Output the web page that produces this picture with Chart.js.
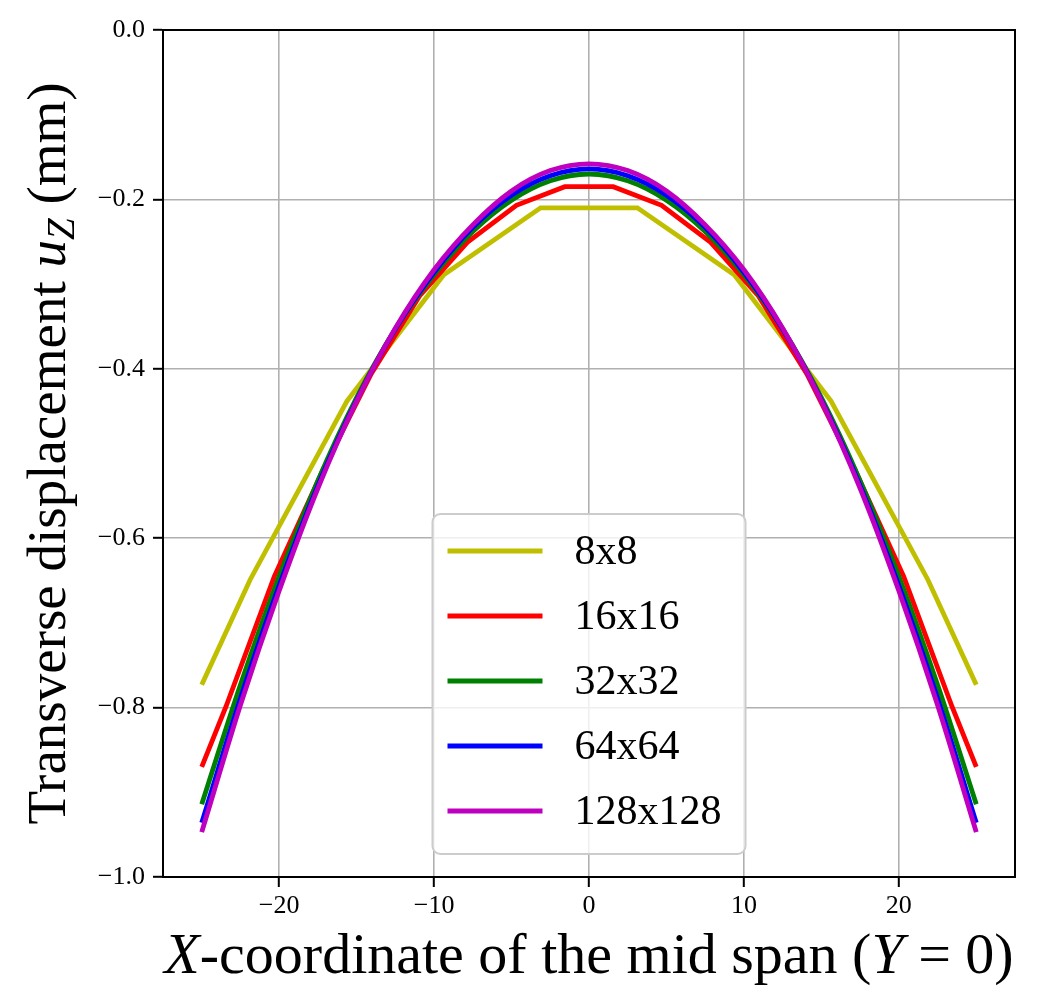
<!DOCTYPE html>
<html>
<head>
<meta charset="utf-8">
<script src="https://cdn.jsdelivr.net/npm/chart.js@4.4.0/dist/chart.umd.min.js"></script>
<style>
  body { margin: 0; background: #fff; }
  canvas { display: block; }
</style>
</head>
<body>
<canvas id="myChart" width="1037" height="1007"></canvas>
<script>
// tick labels
var xTicks = [-20, -10, 0, 10, 20];
var yTicks = [0, -0.2, -0.4, -0.6, -0.8, -1.0];

// mesh names for the legend
var meshLabels = ['8x8', '16x16', '32x32', '64x64', '128x128'];
var meshColors = ['#bfbf00', '#ff0000', '#008000', '#0000ff', '#bf00bf'];

// 8x8 mesh
var x8 = [-25, -21.875, -15.625, -9.375, -3.125, 3.125, 9.375, 15.625, 21.875, 25];
var u8 = [-0.773, -0.649, -0.438, -0.289, -0.210, -0.210, -0.289, -0.438, -0.649, -0.773];

// 16x16 mesh
var x16 = [-25, -23.4375, -20.3125, -17.1875, -14.0625, -10.9375, -7.8125, -4.6875, -1.5625,
           1.5625, 4.6875, 7.8125, 10.9375, 14.0625, 17.1875, 20.3125, 23.4375, 25];
var u16 = [-0.870, -0.799, -0.645, -0.520, -0.406, -0.314, -0.250, -0.207, -0.185,
           -0.185, -0.207, -0.250, -0.314, -0.406, -0.520, -0.645, -0.799, -0.870];

// finer meshes, read every 2.5 mm
var xFine = [-25, -22.5, -20, -17.5, -15, -12.5, -10, -7.5, -5, -2.5, 0,
             2.5, 5, 7.5, 10, 12.5, 15, 17.5, 20, 22.5, 25];
var u32 = [-0.914, -0.773, -0.645, -0.532, -0.434, -0.353, -0.289, -0.238, -0.201, -0.178, -0.170,
           -0.178, -0.201, -0.238, -0.289, -0.353, -0.434, -0.532, -0.645, -0.773, -0.914];
var u64 = [-0.936, -0.789, -0.656, -0.538, -0.437, -0.353, -0.286, -0.233, -0.195, -0.172, -0.164,
           -0.172, -0.195, -0.233, -0.286, -0.353, -0.437, -0.538, -0.656, -0.789, -0.936];
var u128 = [-0.947, -0.797, -0.662, -0.541, -0.438, -0.352, -0.283, -0.230, -0.190, -0.166, -0.158,
            -0.166, -0.190, -0.230, -0.283, -0.352, -0.438, -0.541, -0.662, -0.797, -0.947];

var SERIF = '"Liberation Serif", "Times New Roman", serif';

function pts(xs, ys) {
  return xs.map(function (x, i) { return { x: x, y: ys[i] }; });
}

function makeSet(i, xs, ys, smooth) {
  return {
    label: meshLabels[i],
    data: pts(xs, ys),
    borderColor: meshColors[i],
    borderWidth: 4.8,
    pointRadius: 0,
    fill: false,
    tension: smooth ? 0.4 : 0,
    cubicInterpolationMode: smooth ? 'monotone' : 'default',
    order: 5 - i   // last mesh drawn on top
  };
}

// draw a string made of pieces with different fonts, centred on (0,0)
function drawPieces(ctx, pieces) {
  var total = 0;
  pieces.forEach(function (p) { ctx.font = p.font; total += ctx.measureText(p.t).width; });
  var x = -total / 2;
  pieces.forEach(function (p) {
    ctx.font = p.font;
    ctx.fillText(p.t, x, p.dy || 0);
    x += ctx.measureText(p.t).width;
  });
}

var axisTitles = {
  id: 'axisTitles',
  afterDraw: function (chart) {
    var ctx = chart.ctx, a = chart.chartArea;
    ctx.save();
    ctx.fillStyle = '#000';
    ctx.textBaseline = 'alphabetic';
    ctx.textAlign = 'left';
    // x title
    ctx.save();
    ctx.translate((a.left + a.right) / 2, a.bottom + 96);
    drawPieces(ctx, [
      { t: 'X', font: 'italic 58px ' + SERIF },
      { t: '-coordinate of the mid span (', font: '58px ' + SERIF },
      { t: 'Y', font: 'italic 58px ' + SERIF },
      { t: ' = 0)', font: '58px ' + SERIF }
    ]);
    ctx.restore();
    // y title
    ctx.save();
    ctx.translate(65, (a.top + a.bottom) / 2);
    ctx.rotate(-Math.PI / 2);
    drawPieces(ctx, [
      { t: 'Transverse displacement ', font: '55px ' + SERIF },
      { t: 'u', font: 'italic 55px ' + SERIF },
      { t: 'Z', font: 'italic 39px ' + SERIF, dy: 9 },
      { t: ' (mm)', font: '55px ' + SERIF }
    ]);
    ctx.restore();
    ctx.restore();
  }
};

// frame box and matplotlib style legend at lower centre
var frameAndLegend = {
  id: 'frameAndLegend',
  afterDatasetsDraw: function (chart) {
    var ctx = chart.ctx, a = chart.chartArea;
    ctx.save();
    ctx.strokeStyle = '#000';
    ctx.lineWidth = 2;
    ctx.strokeRect(a.left, a.top, a.right - a.left, a.bottom - a.top);

    var w = 313, h = 340;
    var bx = (a.left + a.right) / 2 - w / 2;
    var by = a.bottom - 23 - h;
    ctx.beginPath();
    ctx.roundRect(bx, by, w, h, 8);
    ctx.fillStyle = 'rgba(255,255,255,0.8)';
    ctx.fill();
    ctx.strokeStyle = '#cccccc';
    ctx.lineWidth = 2;
    ctx.stroke();

    ctx.font = '42px ' + SERIF;
    ctx.textBaseline = 'middle';
    ctx.fillStyle = '#000';
    chart.data.datasets.forEach(function (ds, i) {
      var y = by + 37 + i * 65;
      ctx.beginPath();
      ctx.moveTo(bx + 15, y);
      ctx.lineTo(bx + 110, y);
      ctx.strokeStyle = ds.borderColor;
      ctx.lineWidth = 5;
      ctx.stroke();
      ctx.fillText(ds.label, bx + 142, y + 2);
    });
    ctx.restore();
  }
};

var ctx = document.getElementById('myChart').getContext('2d');
var chart = new Chart(ctx, {
  type: 'line',
  data: {
    datasets: [
      makeSet(0, x8, u8, false),
      makeSet(1, x16, u16, false),
      makeSet(2, xFine, u32, true),
      makeSet(3, xFine, u64, true),
      makeSet(4, xFine, u128, true)
    ]
  },
  options: {
    responsive: false,
    animation: false,
    layout: { padding: { top: 30, right: 22, left: 0, bottom: 0 } },
    plugins: {
      legend: { display: false },
      tooltip: { enabled: false }
    },
    scales: {
      x: {
        type: 'linear',
        min: -27.5,
        max: 27.5,
        afterBuildTicks: function (s) { s.ticks = xTicks.map(function (v) { return { value: v }; }); },
        afterFit: function (s) { s.height = 130; },
        grid: { color: '#b0b0b0', lineWidth: 1.6, tickColor: '#000', tickLength: 10, tickWidth: 2 },
        border: { display: true, color: '#000', width: 2 },
        ticks: {
          color: '#000',
          padding: 4,
          maxRotation: 0,
          font: { family: SERIF, size: 26 },
          callback: function (v) { return String(v).replace('-', '\u2212'); }
        }
      },
      y: {
        type: 'linear',
        min: -1,
        max: 0,
        afterBuildTicks: function (s) { s.ticks = yTicks.map(function (v) { return { value: v }; }); },
        afterFit: function (s) { s.width = 163; },
        grid: { color: '#b0b0b0', lineWidth: 1.6, tickColor: '#000', tickLength: 10, tickWidth: 2 },
        border: { display: true, color: '#000', width: 2 },
        ticks: {
          color: '#000',
          padding: 8,
          font: { family: SERIF, size: 26 },
          callback: function (v) { return Number(v).toFixed(1).replace('-', '\u2212'); }
        }
      }
    }
  },
  plugins: [frameAndLegend, axisTitles]
});
</script>
</body>
</html>
